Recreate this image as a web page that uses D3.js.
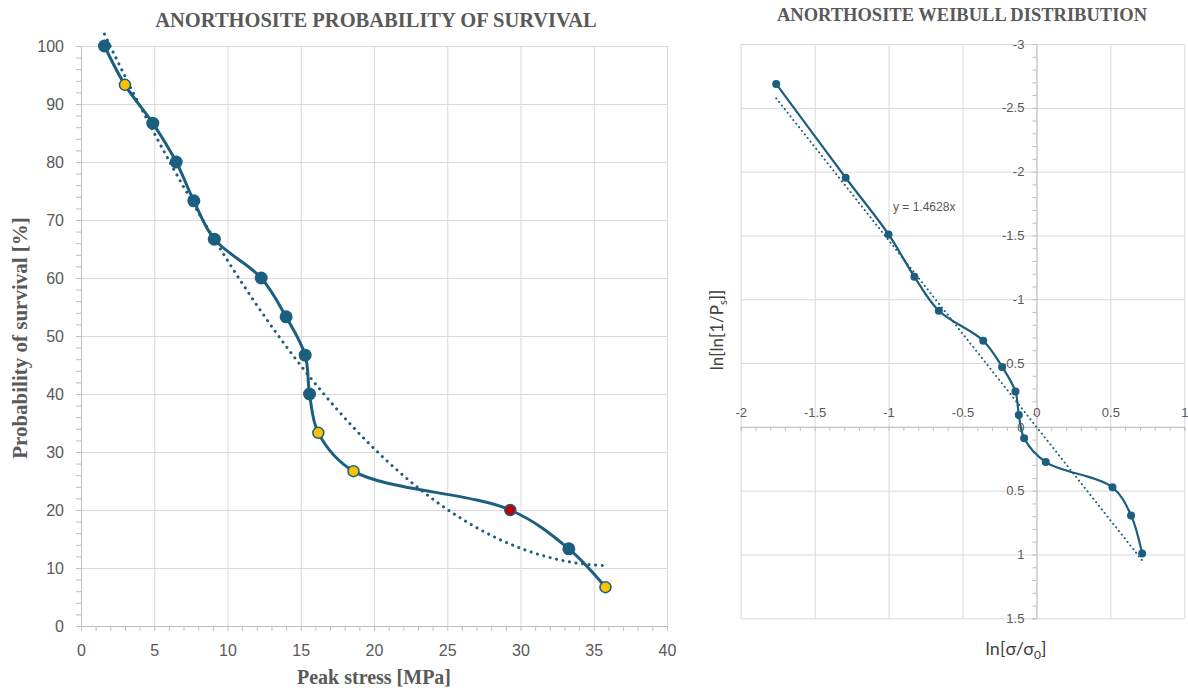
<!DOCTYPE html>
<html>
<head>
<meta charset="utf-8">
<script src="https://d3js.org/d3.v7.min.js"></script>
<style>
  body { margin: 0; background: #fff; }
  .axis text { fill: #595959; font-family: "Liberation Sans", Arial, sans-serif; }
  .axis path, .axis line { stroke: #bfbfbf; }
  .grid line { stroke: #d9d9d9; }
  .grid path { display: none; }
</style>
</head>
<body>
<svg width="1188" height="690"></svg>
<script>
// survival chart data
var stress = [1.6, 3.0, 4.9, 6.5, 7.7, 9.1, 12.3, 14.0, 15.3, 15.6, 16.2, 18.6, 29.3, 33.3, 35.8];
var survival = [100, 93.3, 86.7, 80, 73.3, 66.7, 60, 53.3, 46.7, 40, 33.3, 26.7, 20, 13.3, 6.7];
var pointKind = ["a", "b", "a", "a", "a", "a", "a", "a", "a", "a", "b", "b", "c", "a", "b"];
var xTicks = [0, 5, 10, 15, 20, 25, 30, 35, 40];
var yTicks = [0, 10, 20, 30, 40, 50, 60, 70, 80, 90, 100];

// weibull chart data
var lnStress = [-1.76, -1.29, -1.0, -0.825, -0.66, -0.36, -0.232, -0.142, -0.119, -0.083, 0.063, 0.514, 0.640, 0.715];
var lnLnPs = [-2.687, -1.952, -1.508, -1.176, -0.91, -0.675, -0.47, -0.277, -0.093, 0.09, 0.276, 0.474, 0.694, 0.992];
var weibullSlope = 1.4628;
var wxTicks = [-2, -1.5, -1, -0.5, 0, 0.5, 1];
var wyTicks = [-3, -2.5, -2, -1.5, -1, -0.5, 0, 0.5, 1, 1.5];

var teal = "#1b5e7d";
var kindColor = d3.scaleOrdinal().domain(["a", "b", "c"]).range([teal, "#ffc000", "#c00000"]);
var plain = function(d) { return String(d); };

var svg = d3.select("svg");
svg.append("rect").attr("width", 1188).attr("height", 690).attr("fill", "#fff");

// ---------- left chart ----------
var x = d3.scaleLinear().domain([0, 40]).range([81, 667]);
var y = d3.scaleLinear().domain([0, 100]).range([626, 46]);

var left = svg.append("g");

left.append("g").attr("class", "grid")
    .attr("transform", "translate(0,626)")
    .call(d3.axisBottom(x).tickValues(xTicks.slice(1)).tickSize(-580).tickFormat(""));
left.append("g").attr("class", "grid")
    .attr("transform", "translate(81,0)")
    .call(d3.axisLeft(y).tickValues(yTicks.slice(1)).tickSize(-586).tickFormat(""));

// minor ticks
left.append("g").attr("class", "axis")
    .attr("transform", "translate(0,626)")
    .call(d3.axisBottom(x).tickValues(d3.range(0, 41, 1)).tickSize(5).tickFormat(""));
left.append("g").attr("class", "axis")
    .attr("transform", "translate(81,0)")
    .call(d3.axisLeft(y).tickValues(d3.range(0, 101, 2)).tickSize(5).tickFormat(""));

left.append("g").attr("class", "axis")
    .attr("transform", "translate(0,626)")
    .call(d3.axisBottom(x).tickValues(xTicks).tickSize(0).tickPadding(19).tickFormat(plain))
    .call(function(g) { g.select(".domain").remove(); })
    .selectAll("text").attr("font-size", 16);
left.append("g").attr("class", "axis")
    .attr("transform", "translate(81,0)")
    .call(d3.axisLeft(y).tickValues(yTicks).tickSize(0).tickPadding(17).tickFormat(plain))
    .call(function(g) { g.select(".domain").remove(); })
    .selectAll("text").attr("font-size", 16);

// quadratic least squares trendline
function quadFit(xs, ys) {
  var s = [0, 0, 0, 0, 0], t = [0, 0, 0];
  xs.forEach(function(xv, i) {
    for (var k = 0; k < 5; k++) s[k] += Math.pow(xv, k);
    for (var k = 0; k < 3; k++) t[k] += ys[i] * Math.pow(xv, k);
  });
  var m = [[s[0], s[1], s[2], t[0]], [s[1], s[2], s[3], t[1]], [s[2], s[3], s[4], t[2]]];
  for (var i = 0; i < 3; i++) {
    for (var j = i + 1; j < 3; j++) {
      var f = m[j][i] / m[i][i];
      for (var k = i; k < 4; k++) m[j][k] -= f * m[i][k];
    }
  }
  var c = [0, 0, 0];
  for (var i = 2; i >= 0; i--) {
    var v = m[i][3];
    for (var k = i + 1; k < 3; k++) v -= m[i][k] * c[k];
    c[i] = v / m[i][i];
  }
  return c;
}
var coef = quadFit(stress, survival);
var trendX = d3.range(stress[0], stress[stress.length - 1], 0.2).concat([stress[stress.length - 1]]);

var pts = stress.map(function(d, i) { return [d, survival[i], pointKind[i]]; });

left.append("path")
    .datum(pts)
    .attr("fill", "none")
    .attr("stroke", teal)
    .attr("stroke-width", 3)
    .attr("d", d3.line().curve(d3.curveCatmullRom.alpha(0.5))
      .x(function(d) { return x(d[0]); })
      .y(function(d) { return y(d[1]); }));

left.append("path")
    .datum(trendX)
    .attr("fill", "none")
    .attr("stroke", teal)
    .attr("stroke-width", 3)
    .attr("stroke-linecap", "round")
    .attr("stroke-dasharray", "0.1 6.5")
    .attr("d", d3.line()
      .x(function(d) { return x(d); })
      .y(function(d) { return y(coef[0] + coef[1] * d + coef[2] * d * d); }));

left.append("g").selectAll("circle")
    .data(pts)
    .enter().append("circle")
      .attr("cx", function(d) { return x(d[0]); })
      .attr("cy", function(d) { return y(d[1]); })
      .attr("r", function(d) { return d[2] == "a" ? 6.5 : 5.5; })
      .attr("fill", function(d) { return kindColor(d[2]); })
      .attr("stroke", teal)
      .attr("stroke-width", function(d) { return d[2] == "a" ? 0 : 1.5; });

left.append("text")
    .attr("x", 376).attr("y", 27)
    .attr("text-anchor", "middle")
    .attr("font-family", "Liberation Serif, Times New Roman, serif")
    .attr("font-weight", "bold")
    .attr("font-size", 20.5)
    .attr("fill", "#595959")
    .text("ANORTHOSITE PROBABILITY OF SURVIVAL");

left.append("text")
    .attr("x", 374).attr("y", 684)
    .attr("text-anchor", "middle")
    .attr("font-family", "Liberation Serif, Times New Roman, serif")
    .attr("font-weight", "bold")
    .attr("font-size", 20)
    .attr("fill", "#595959")
    .text("Peak stress [MPa]");

left.append("text")
    .attr("transform", "translate(27,338) rotate(-90)")
    .attr("text-anchor", "middle")
    .attr("font-family", "Liberation Serif, Times New Roman, serif")
    .attr("font-weight", "bold")
    .attr("font-size", 21)
    .attr("fill", "#595959")
    .text("Probability of survival [%]");

// ---------- right chart ----------
var xr = d3.scaleLinear().domain([-2, 1]).range([740.7, 1184.3]);
var yr = d3.scaleLinear().domain([-3, 1.5]).range([44, 618.3]);

var right = svg.append("g");

right.append("g").attr("class", "grid")
    .attr("transform", "translate(0,44)")
    .call(d3.axisTop(xr).tickValues(wxTicks).tickSize(-574.3).tickFormat(""));
right.append("g").attr("class", "grid")
    .attr("transform", "translate(740.7,0)")
    .call(d3.axisLeft(yr).tickValues(wyTicks).tickSize(-443.6).tickFormat(""));

right.append("g").attr("class", "axis")
    .attr("transform", "translate(0," + yr(0) + ")")
    .call(d3.axisBottom(xr).tickValues(d3.range(-20, 11).map(function(d) { return d / 10; })).tickSize(4).tickFormat(""));
right.append("g").attr("class", "axis")
    .attr("transform", "translate(" + xr(0) + ",0)")
    .call(d3.axisLeft(yr).tickValues(d3.range(-30, 16).map(function(d) { return d / 10; })).tickSize(4).tickFormat(""));

right.append("g").attr("class", "axis")
    .attr("transform", "translate(0," + yr(0) + ")")
    .call(d3.axisTop(xr).tickValues(wxTicks).tickSize(0).tickPadding(14).tickFormat(plain))
    .call(function(g) { g.select(".domain").remove(); })
    .selectAll("text").attr("font-size", 13).attr("dy", "0.35em");
right.append("g").attr("class", "axis")
    .attr("transform", "translate(" + xr(0) + ",0)")
    .call(d3.axisLeft(yr).tickValues(wyTicks).tickSize(0).tickPadding(12).tickFormat(plain))
    .call(function(g) { g.select(".domain").remove(); })
    .selectAll("text").attr("font-size", 13);

var wpts = lnStress.map(function(d, i) { return [d, lnLnPs[i]]; });
var wx0 = d3.min(lnStress), wx1 = d3.max(lnStress);

right.append("path")
    .datum(wpts)
    .attr("fill", "none")
    .attr("stroke", teal)
    .attr("stroke-width", 2.2)
    .attr("d", d3.line().curve(d3.curveCatmullRom.alpha(0.5))
      .x(function(d) { return xr(d[0]); })
      .y(function(d) { return yr(d[1]); }));

right.append("path")
    .datum([wx0, wx1])
    .attr("fill", "none")
    .attr("stroke", teal)
    .attr("stroke-width", 2)
    .attr("stroke-linecap", "round")
    .attr("stroke-dasharray", "0.1 4.5")
    .attr("d", d3.line()
      .x(function(d) { return xr(d); })
      .y(function(d) { return yr(weibullSlope * d); }));

right.append("g").selectAll("circle")
    .data(wpts)
    .enter().append("circle")
      .attr("cx", function(d) { return xr(d[0]); })
      .attr("cy", function(d) { return yr(d[1]); })
      .attr("r", 4)
      .attr("fill", teal);

right.append("text")
    .attr("x", 893).attr("y", 211)
    .attr("font-family", "Liberation Sans, Arial, sans-serif")
    .attr("font-size", 12)
    .attr("fill", "#595959")
    .text("y = " + weibullSlope + "x");

right.append("text")
    .attr("x", 962).attr("y", 20.5)
    .attr("text-anchor", "middle")
    .attr("font-family", "Liberation Serif, Times New Roman, serif")
    .attr("font-weight", "bold")
    .attr("font-size", 18.5)
    .attr("fill", "#595959")
    .text("ANORTHOSITE WEIBULL DISTRIBUTION");

var ylab = right.append("text")
    .attr("transform", "translate(723,330) rotate(-90)")
    .attr("text-anchor", "middle")
    .attr("font-family", "Lato, Noto Sans, sans-serif")
    .attr("font-size", 17)
    .attr("fill", "#404040");
ylab.append("tspan").text("ln[ln[1/P");
ylab.append("tspan").attr("font-size", 11).attr("dy", 4).text("s");
ylab.append("tspan").attr("dy", -4).text("]]");

var xlab = right.append("text")
    .attr("x", 1016).attr("y", 655)
    .attr("text-anchor", "middle")
    .attr("font-family", "Lato, Noto Sans, sans-serif")
    .attr("font-size", 18)
    .attr("fill", "#404040");
xlab.append("tspan").text("ln[σ/σ");
xlab.append("tspan").attr("font-size", 12).attr("dy", 4).text("0");
xlab.append("tspan").attr("dy", -4).text("]");
</script>
</body>
</html>
